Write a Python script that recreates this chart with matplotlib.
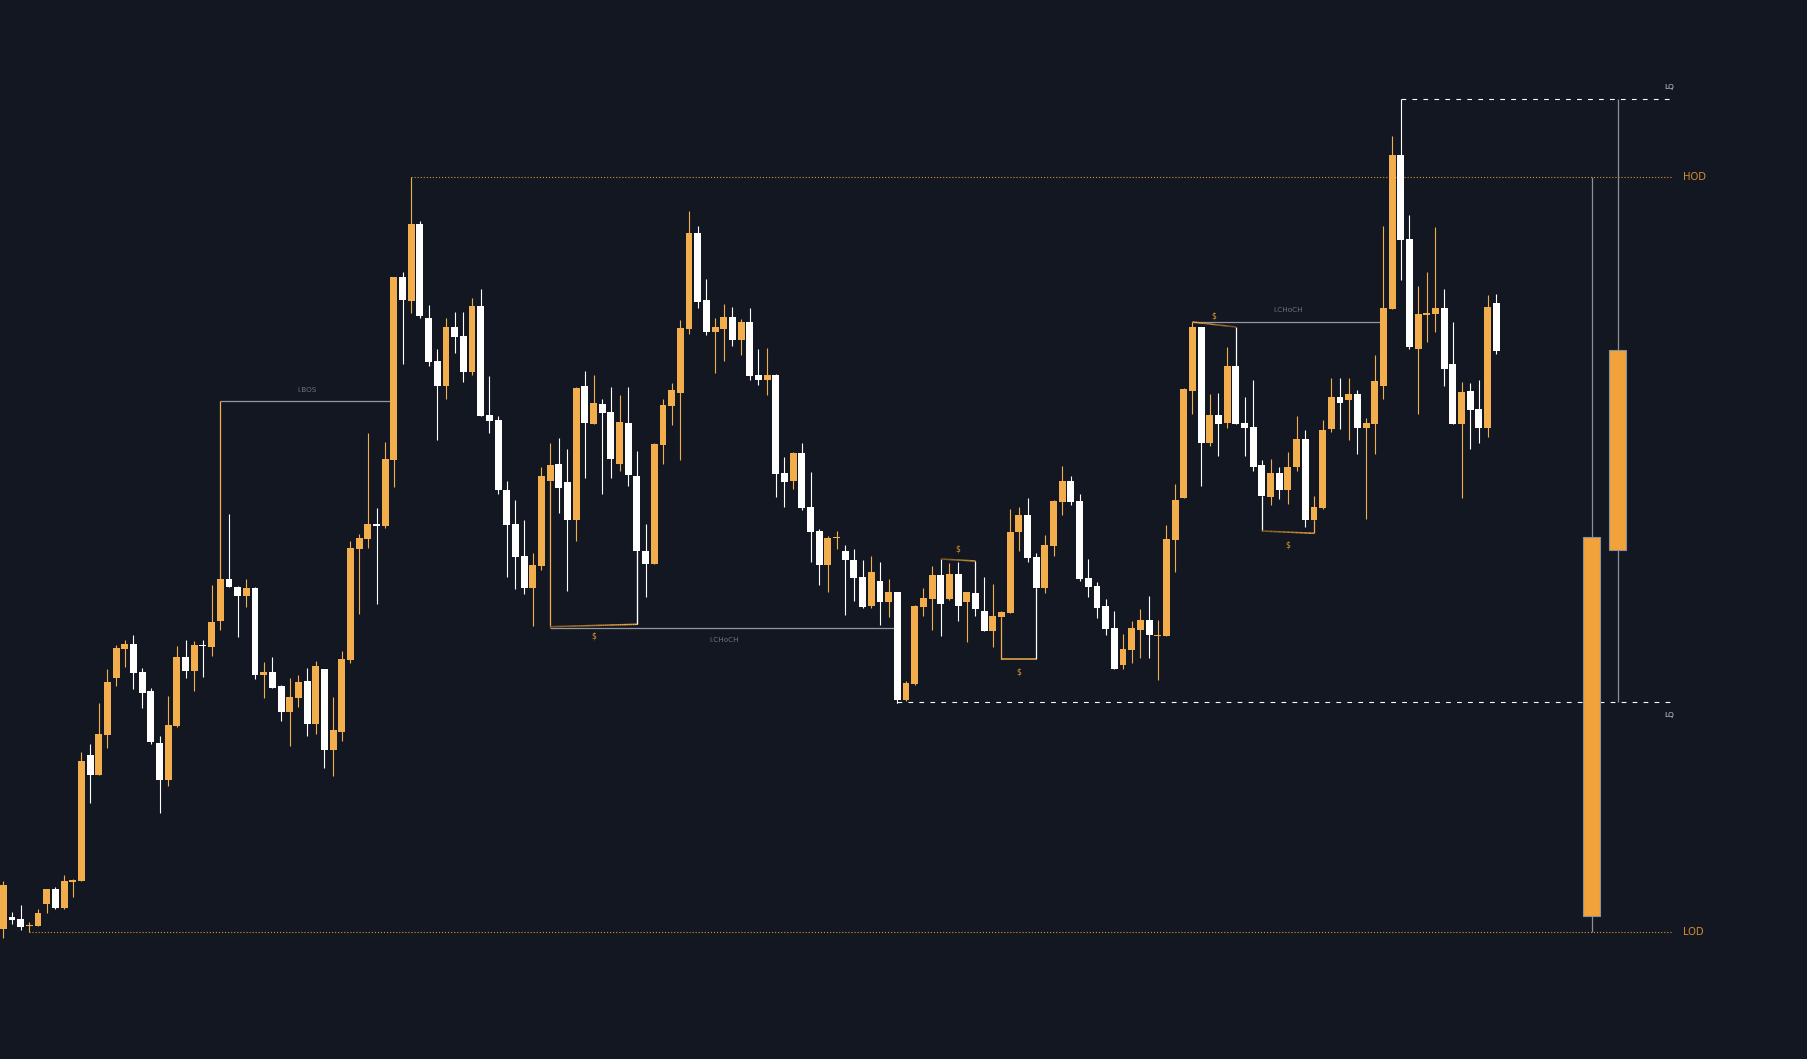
import matplotlib
matplotlib.use('Agg')
import matplotlib.pyplot as plt
import numpy as np
from matplotlib.collections import LineCollection
import matplotlib.colors as mcolors

plt.rcParams['lines.scale_dashes'] = False
plt.rcParams['font.family'] = ['DejaVu Sans']

# ---------------- data (price units) ----------------
opens = [130,142,140,133,133,155,170,151,177,178,
         304,284,324,381,410,415,387,368,316,279,
         333,402,388,414,412,438,480,472,463,471,
         384,387,373,347,361,378,335,390,309,327,
         399,510,520,535,533,599,782,758,835,741,
         698,673,732,723,687,753,644,639,569,535,
         503,471,493,578,595,577,539,673,635,655,
         647,595,636,583,508,495,614,653,666,730,
         826,759,727,730,742,719,737,684,679,684,
         586,578,606,552,528,494,521,508,499,482,
         453,478,457,467,359,375,452,460,484,460,
         485,457,466,448,428,442,446,527,544,502,
         471,513,557,578,558,481,473,453,431,394,
         409,429,439,423,423,519,561,668,732,616,
         644,636,693,636,632,594,562,586,569,592,
         620,539,551,630,662,659,665,631,635,673,
         750,904,820,710,744,745,751,695,635,668,
         650,631,756]
highs = [178,147,154,137,150,170,172,184,180,307,
         315,356,390,414,419,424,391,371,323,363,
         413,419,418,419,474,480,545,473,480,472,
         397,402,374,381,384,391,398,390,362,408,
         518,525,626,551,617,782,787,882,838,754,
         710,741,747,747,761,770,683,643,578,559,
         539,506,592,616,621,610,672,688,684,660,
         672,664,672,608,535,616,660,676,739,848,
         833,780,741,755,752,740,751,710,711,685,
         602,607,616,587,530,523,528,514,510,499,
         503,497,480,467,378,454,471,493,500,496,
         497,467,466,482,475,448,550,552,561,506,
         524,559,593,583,565,500,477,460,448,425,
         438,450,463,439,534,575,671,737,732,665,
         666,712,693,662,679,599,600,592,607,643,
         629,563,639,681,681,681,669,641,704,833,
         923,960,844,773,787,832,770,737,677,676,
         679,764,765]
lows = [121,135,129,127,133,146,150,150,162,178,
        256,284,311,373,392,370,351,315,246,273,
        332,381,368,382,403,429,472,422,452,380,
        361,371,338,313,352,323,325,291,283,318,
        396,445,511,455,531,572,695,746,741,693,
        619,660,706,677,684,643,626,565,482,470,
        465,433,489,578,546,468,518,581,635,565,
        581,588,573,435,462,495,595,634,599,725,
        751,724,686,698,713,704,679,674,664,562,
        552,570,549,497,474,467,510,444,458,451,
        451,434,442,356,358,374,443,429,423,459,
        438,417,443,428,412,442,446,508,497,471,
        466,503,544,554,478,462,441,424,390,390,
        396,401,401,379,423,487,561,645,573,613,
        603,631,635,603,588,563,554,560,555,588,
        532,539,550,627,630,619,605,540,605,660,
        750,779,710,645,717,727,673,635,561,610,
        616,622,705]
closes = [174,139,132,134,146,170,151,178,179,298,
          284,325,377,411,415,386,366,317,279,334,
          402,388,414,413,437,480,472,463,471,384,
          387,371,347,362,377,335,393,309,329,400,
          511,521,535,533,600,782,759,835,743,697,
          673,732,722,687,753,643,638,569,534,502,
          471,494,583,594,571,539,671,636,656,646,
          600,637,584,508,495,615,654,669,731,826,
          757,727,732,742,719,737,683,679,684,585,
          577,606,551,527,494,521,522,499,481,452,
          487,457,467,359,376,453,461,484,455,485,
          453,467,450,428,443,447,527,544,501,471,
          514,558,578,557,480,472,451,430,390,410,
          431,439,424,424,520,559,670,732,616,644,
          635,693,635,631,592,563,586,569,592,620,
          539,552,629,662,656,665,631,636,678,751,
          904,819,712,745,746,751,690,635,667,649,
          631,752,708]

# key levels
HOD = 882
LOD = 127
LQ_high = 960
LQ_low = 357

# higher-timeframe (daily) candles on the right: open, high, low, close
htf_open = [143, 509]
htf_high = [882, 960]
htf_low = [127, 357]
htf_close = [522, 709]

# structure levels
bos_level = 658
choch_low_level = 431.5
choch_high_level = 737

BG = '#131722'
ORANGE = '#F2AD4C'
WHITE = '#FFFFFF'
GREY_LINE = '#9598a1'
GREY_TXT = '#6f737e'

fig = plt.figure(figsize=(18.07, 10.59), dpi=100, facecolor=BG)
ax = fig.add_axes([0, 0, 1, 1])
ax.set_facecolor(BG)
ax.set_xlim(-0.38, 207.8)
ax.set_ylim(0, 1059)
ax.axis('off')

n = len(opens)
idx = np.arange(n)
o = np.array(opens, float); h = np.array(highs, float)
l = np.array(lows, float); c = np.array(closes, float)
up = c >= o
cols = np.where(up, ORANGE, WHITE)

# wicks
ax.vlines(idx, l, h, colors=cols, linewidth=0.8, zorder=3)
# bodies
bottoms = np.minimum(o, c)
heights = np.maximum(np.abs(c - o), 1.6)
bottoms = np.where(np.abs(c - o) < 1.6, (o + c) / 2 - 0.8, bottoms)
ax.bar(idx, heights, bottom=bottoms, width=0.8, color=cols, linewidth=0, zorder=4)

x_end = 192.1

# HOD / LOD dotted
ax.hlines(HOD, 47, x_end, colors='#E09A35', linewidth=0.8,
          linestyles=[(0, (0.8, 1.4))], zorder=1, alpha=0.95)
ax.hlines(LOD, 3, x_end, colors='#E09A35', linewidth=0.8,
          linestyles=[(0, (0.8, 1.4))], zorder=1, alpha=0.95)
ax.text(193.5, HOD, 'HOD', color='#D38F2E', fontsize=7.2, ha='left', va='center', zorder=6)
ax.text(193.5, LOD, 'LOD', color='#D38F2E', fontsize=7.2, ha='left', va='center', zorder=6)

# LQ dashed
ax.hlines(LQ_high, 161, x_end, colors=WHITE, linewidth=0.8,
          linestyles=[(0, (3.4, 4.5))], zorder=2)
ax.hlines(LQ_low, 103, x_end, colors=WHITE, linewidth=0.8,
          linestyles=[(0, (3.4, 4.5))], zorder=2)
ax.vlines(103, LQ_low, lows[103], colors=WHITE, linewidth=0.8, zorder=2)
ax.text(191.9, LQ_high + 11.5, 'LQ', color='#cfd1d6', fontsize=5.3, ha='center', va='center')
ax.text(191.9, LQ_low - 13.5, 'LQ', color='#cfd1d6', fontsize=5.3, ha='center', va='center')

# HTF candles
for k, xc in enumerate([183.0, 186.0]):
    ax.vlines(xc, htf_low[k], htf_high[k], colors='#8d9098', linewidth=0.9, zorder=3)
    b = min(htf_open[k], htf_close[k]); hh = abs(htf_close[k] - htf_open[k])
    ax.bar(xc, hh, bottom=b, width=2.0, color='#F1A23B', edgecolor='#8d9098',
           linewidth=0.8, zorder=4)

# structure lines
ax.hlines(bos_level, 25, 45, colors=GREY_LINE, linewidth=0.9, zorder=2)
ax.vlines(25, highs[25], bos_level, colors=ORANGE, linewidth=0.9, zorder=2)
ax.text(35.0, bos_level + 10.5, 'i.BOS', color=GREY_TXT, fontsize=5.2, ha='center', va='center')

ax.hlines(choch_low_level, 63, 103, colors=GREY_LINE, linewidth=0.9, zorder=2)
ax.text(83.0, choch_low_level - 12.5, 'i.CHoCH', color=GREY_TXT, fontsize=5.2, ha='center', va='center')

ax.hlines(choch_high_level, 137, 159, colors=GREY_LINE, linewidth=0.9, zorder=2)
ax.text(148.0, choch_high_level + 11.5, 'i.CHoCH', color=GREY_TXT, fontsize=5.2, ha='center', va='center')


def gradient_line(x0, y0, x1, y1, c0, c1, lw=1.0, z=5):
    t = np.linspace(0, 1, 41)
    xs = x0 + (x1 - x0) * t
    ys = y0 + (y1 - y0) * t
    segs = [[(xs[i], ys[i]), (xs[i + 1], ys[i + 1])] for i in range(len(t) - 1)]
    a = np.array(mcolors.to_rgba(c0)); b = np.array(mcolors.to_rgba(c1))
    colors = [a + (b - a) * tt for tt in (t[:-1] + t[1:]) / 2]
    ax.add_collection(LineCollection(segs, colors=colors, linewidths=lw, zorder=z))


DARK_OR = '#8a5a1e'


def bracket(i0, ya, lev0, i1, lev1, yb, c0, c1, g0, g1, label_y):
    ax.vlines(i0, min(ya, lev0), max(ya, lev0), colors=c0, linewidth=0.9, zorder=5)
    gradient_line(i0, lev0, i1, lev1, g0, g1, lw=1.1)
    ax.vlines(i1, min(yb, lev1), max(yb, lev1), colors=c1, linewidth=0.9, zorder=5)
    ax.text((i0 + i1) / 2, label_y, '$', color='#D8922E', fontsize=5.6,
            ha='center', va='center', zorder=6)


bracket(63, lows[63], 432.3, 73, 434.7, closes[73], ORANGE, WHITE, DARK_OR, ORANGE, 423)
bracket(108, highs[108], 500, 112, 498, highs[112], WHITE, WHITE, DARK_OR, ORANGE, 509.7)
bracket(115, lows[115], 399.7, 119, 399.7, lows[119], ORANGE, WHITE, ORANGE, ORANGE, 386.7)
bracket(137, highs[137], 737, 142, 732, opens[142], ORANGE, WHITE, ORANGE, DARK_OR, 743.5)
bracket(145, lows[145], 528, 151, 525.7, lows[151], WHITE, ORANGE, DARK_OR, ORANGE, 513.7)

fig.savefig('out.png', dpi=100, facecolor=BG)
